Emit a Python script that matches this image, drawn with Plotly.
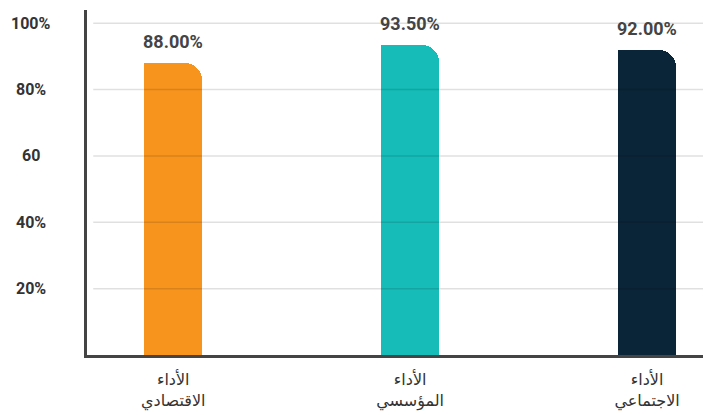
import plotly.graph_objects as go

categories = ["الأداء<br>الاقتصادي", "الأداء<br>المؤسسي", "الأداء<br>الاجتماعي"]
values = [88.00, 93.50, 92.00]
colors = ["#F7941D", "#15BCB8", "#0A2537"]
tick_vals = [20, 40, 60, 80, 100]
tick_text = ["20%", "40%", "60", "80%", "100%"]

idx = list(range(len(categories)))
bar_w = 0.245

fig = go.Figure()
# rounded bar (top-right corner rounded)
fig.add_trace(go.Bar(x=idx, y=values, width=bar_w, marker=dict(color=colors, cornerradius="30%", line=dict(width=0)),
                     hoverinfo="skip", showlegend=False))
# square left half to keep the top-left corner sharp
fig.add_trace(go.Bar(x=idx, y=values, width=bar_w / 2, offset=-bar_w / 2,
                     marker=dict(color=colors, cornerradius=0, line=dict(width=0)),
                     hoverinfo="skip", showlegend=False))

# gridlines drawn above bars
for tv in tick_vals:
    fig.add_shape(type="line", xref="paper", yref="y", x0=0.01, x1=1, y0=tv, y1=tv,
                  line=dict(color="rgba(0,0,0,0.12)", width=1.5), layer="above")

# y tick labels (centered)
for tv, tt in zip(tick_vals, tick_text):
    fig.add_annotation(x=-0.09, xref="paper", y=tv, yref="y", text=tt, showarrow=False,
                       xanchor="center", yanchor="middle",
                       font=dict(family="Roboto", size=16, color="#333333", weight="bold"))

# value labels
for i, v in zip(idx, values):
    fig.add_annotation(x=i, y=v, text=f"{v:.2f}%", showarrow=False, yanchor="bottom", yshift=9,
                       font=dict(family="Roboto", size=18, color="#444444", weight="bold"))

fig.update_layout(
    template="none",
    width=703, height=407,
    margin=dict(l=79, r=0, t=2, b=60, pad=0, autoexpand=False),
    paper_bgcolor="white", plot_bgcolor="white",
    barmode="overlay",
    bargap=0,
)
fig.update_xaxes(range=[-0.364, 2.27], tickvals=idx, ticktext=categories, showgrid=False, zeroline=False,
                 automargin=False,
                 showline=True, linecolor="#444444", linewidth=2.5, ticks="outside", ticklen=8,
                 tickcolor="rgba(0,0,0,0)",
                 tickfont=dict(family="DejaVu Sans", size=16, color="#333333"))
fig.update_yaxes(range=[0, 104], showgrid=False, zeroline=False, showticklabels=False, ticks="",
                 automargin=False,
                 showline=True, linecolor="#444444", linewidth=2.5)

fig.write_html("out.html")
